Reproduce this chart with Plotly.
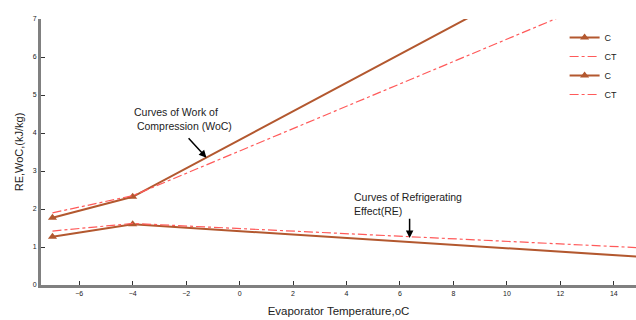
import plotly.graph_objects as go

# Work of Compression (WoC)
woc_c_x = [-7, -4, 15]
woc_c_y = [1.77, 2.32, 9.45]
woc_ct_x = [-7, -4, 15]
woc_ct_y = [1.9, 2.35, 7.94]
# Refrigerating Effect (RE)
re_c_x = [-7, -4, 15]
re_c_y = [1.27, 1.6, 0.74]
re_ct_x = [-7, -4, 15]
re_ct_y = [1.42, 1.62, 0.98]

x_ticks = [-6, -4, -2, 0, 2, 4, 6, 8, 10, 12, 14]
y_ticks = [0, 1, 2, 3, 4, 5, 6, 7]

BROWN = "#b3582f"
RED = "#ff5a5a"

fig = go.Figure()

def solid(x, y, name):
    fig.add_trace(go.Scatter(x=x, y=y, name=name, mode="lines+markers",
                             line=dict(color=BROWN, width=2),
                             marker=dict(symbol="triangle-up", size=8, color=BROWN)))

def dashdot(x, y, name):
    fig.add_trace(go.Scatter(x=x, y=y, name=name, mode="lines",
                             line=dict(color=RED, width=1.2, dash="dashdot")))

solid(woc_c_x, woc_c_y, "C")
dashdot(woc_ct_x, woc_ct_y, "CT")
solid(re_c_x, re_c_y, "C")
dashdot(re_ct_x, re_ct_y, "CT")

fig.add_annotation(x=-1.24, y=3.35, ax=-1.96, ay=3.9, xref="x", yref="y", axref="x", ayref="y",
                   text="", showarrow=True, arrowhead=2, arrowsize=1, arrowwidth=1.5, arrowcolor="black")
fig.add_annotation(x=-2.1, y=4.36, xref="x", yref="y", showarrow=False, xanchor="center",
                   text="Curves of Work of<br> Compression (WoC)", align="left",
                   font=dict(size=10.5, color="#222222"))

fig.add_annotation(x=6.36, y=1.24, ax=6.36, ay=1.78, xref="x", yref="y", axref="x", ayref="y",
                   text="", showarrow=True, arrowhead=2, arrowsize=1, arrowwidth=1.5, arrowcolor="black")
fig.add_annotation(x=4.19, y=2.14, xref="x", yref="y", showarrow=False, xanchor="left",
                   text="Curves of Refrigerating<br>Effect(RE)", align="left",
                   font=dict(size=10.5, color="#222222"))

fig.update_layout(
    width=636, height=320,
    margin=dict(l=41, r=0, t=19, b=35),
    paper_bgcolor="white", plot_bgcolor="white",
    font=dict(family="Liberation Sans, Arial, sans-serif", size=7, color="#222222"),
    showlegend=True,
    legend=dict(x=0.88, y=0.985, xanchor="left", yanchor="top", bgcolor="rgba(0,0,0,0)",
                font=dict(size=9), tracegroupgap=0, itemwidth=30),
    xaxis=dict(range=[-7.43, 14.83], tickvals=x_ticks, ticks="inside", ticklen=4,
               tickcolor="#333333", showgrid=False, zeroline=False, showline=True,
               linecolor="#808080", linewidth=3,
               title=dict(text="Evaporator Temperature,oC", font=dict(size=11.5), standoff=11)),
    yaxis=dict(range=[0, 7], tickvals=y_ticks, ticks="inside", ticklen=4,
               tickcolor="#333333", showgrid=False, zeroline=False, showline=True,
               linecolor="#808080", linewidth=3,
               title=dict(text="RE,WoC,(kJ/kg)", font=dict(size=11), standoff=7)),
)

fig.write_html("out.html", post_script="document.body.style.margin='0px';",
               config={"displayModeBar": False})
